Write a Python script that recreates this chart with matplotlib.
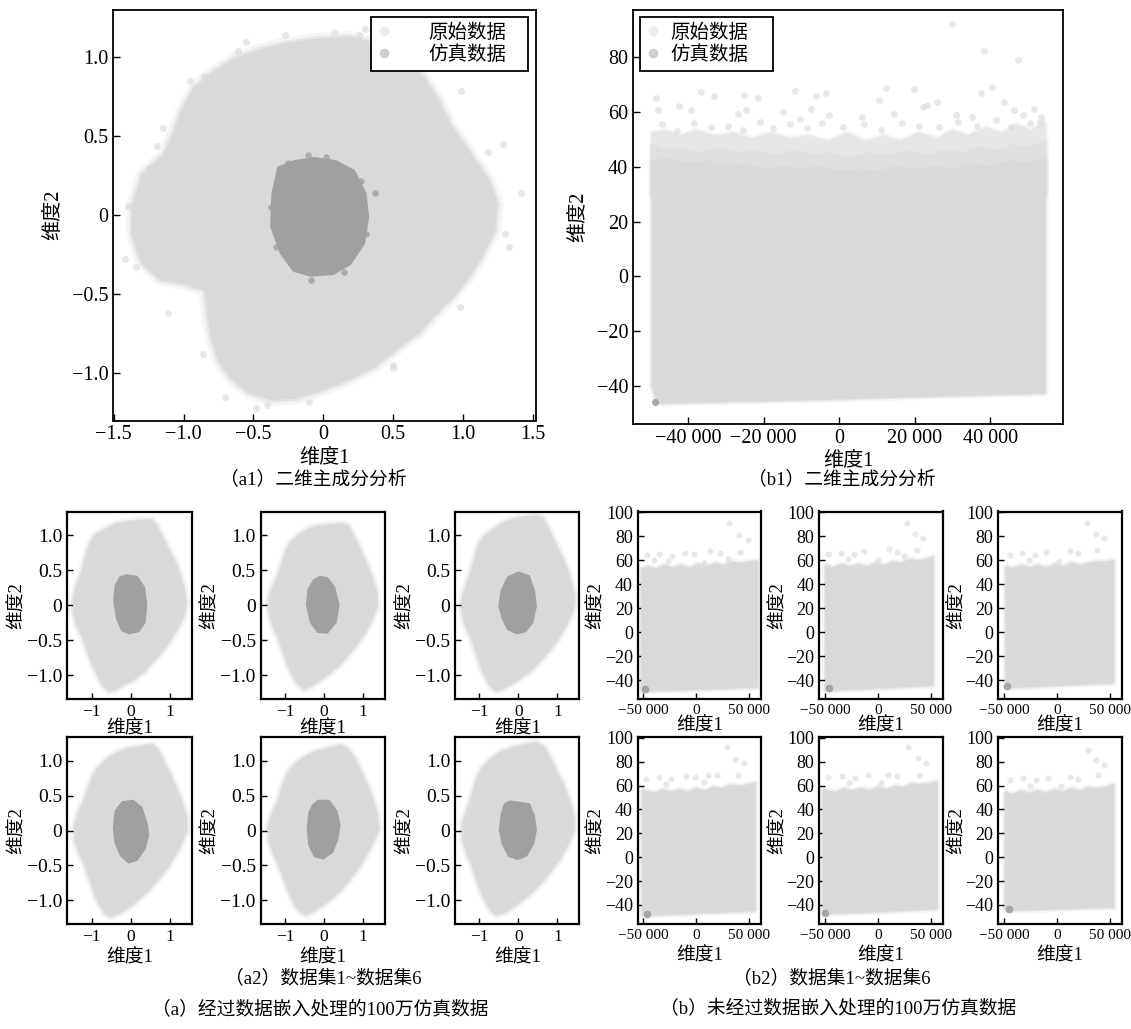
import numpy as np
import matplotlib
matplotlib.use("Agg")
import matplotlib.pyplot as plt
from matplotlib.lines import Line2D
from matplotlib.ticker import FuncFormatter

plt.rcParams['font.family'] = ['Liberation Serif', 'Noto Sans CJK SC']
plt.rcParams['axes.unicode_minus'] = True

LIGHT = '#d9d9d9'
DARK = '#a0a0a0'

# ---------------- (a1) cloud outlines ----------------
a1_orig_outline = [(-0.27, 1.08), (-0.45, 1.04), (-0.62, 0.99), (-0.78, 0.90), (-0.92, 0.80),
                   (-1.01, 0.65), (-1.07, 0.50), (-1.14, 0.37), (-1.29, 0.25), (-1.36, 0.05),
                   (-1.36, -0.12), (-1.29, -0.30), (-1.16, -0.40), (-0.98, -0.43), (-0.84, -0.47),
                   (-0.82, -0.62), (-0.79, -0.78), (-0.74, -0.92), (-0.66, -1.02), (-0.52, -1.12),
                   (-0.37, -1.16), (-0.19, -1.15), (-0.01, -1.10), (0.19, -1.03), (0.37, -0.95),
                   (0.55, -0.82), (0.68, -0.74), (0.82, -0.60), (0.92, -0.52), (1.05, -0.37),
                   (1.14, -0.24), (1.22, -0.10), (1.24, 0.07), (1.18, 0.22), (1.10, 0.32),
                   (1.00, 0.45), (0.91, 0.56), (0.82, 0.72), (0.72, 0.86), (0.60, 0.98),
                   (0.42, 1.07), (0.19, 1.12), (-0.01, 1.11)]
a1_sim_outline = [(-0.21, 0.34), (-0.32, 0.30), (-0.36, 0.14), (-0.37, -0.07), (-0.30, -0.24),
                  (-0.21, -0.35), (-0.09, -0.38), (0.07, -0.37), (0.19, -0.31), (0.29, -0.18),
                  (0.32, -0.01), (0.30, 0.14), (0.22, 0.28), (0.09, 0.34), (-0.06, 0.36)]
a1_orig_dots_x = [-1.19, -1.40, -1.42, -1.34, -1.11, 1.29, 1.42, 0.99, -0.48, -0.70,
                  -0.27, 0.08, -0.61, 0.81, -1.25, 1.33, -0.40, 0.50, 0.26, -0.85,
                  -0.95, -1.15, -0.55, 0.30, 0.75, 1.18, 1.30, 0.98, 0.50, -0.10,
                  -0.86, -1.32]
a1_orig_dots_y = [0.44, 0.06, -0.28, -0.33, -0.62, 0.45, 0.14, 0.79, -1.22, -1.15,
                  1.14, 1.16, 1.04, -0.61, 0.30, -0.20, -1.20, -0.95, 1.14, 0.88,
                  0.85, 0.55, 1.10, 1.18, 0.95, 0.40, -0.12, -0.58, -0.97, -1.18,
                  -0.88, -0.22]
a1_sim_dots_x = [0.37, -0.09, -0.11, 0.27, -0.34, -0.25, 0.15, 0.31, -0.37, 0.02]
a1_sim_dots_y = [0.14, -0.41, 0.38, 0.22, -0.20, 0.33, -0.36, -0.12, 0.05, 0.37]

# ---------------- (b1) ----------------
b1_dense_outline = [(-48000, -46.2), (0, -44.6), (54400, -42.5), (54400, 43), (50000, 41),
                    (45000, 42), (40000, 40), (35000, 41), (30000, 39), (25000, 40), (20000, 39),
                    (15000, 40), (10000, 38), (5000, 39), (0, 38), (-5000, 40), (-10000, 39),
                    (-15000, 40), (-20000, 39), (-25000, 41), (-30000, 40), (-35000, 42),
                    (-40000, 41), (-45000, 43), (-49400, 42), (-49400, -40)]
b1_band1_outline = [(-49400, 30), (54400, 30), (54400, 49), (50000, 47), (46000, 48), (42000, 46),
                    (37000, 47), (33000, 45), (28000, 46), (23000, 44), (18000, 46), (13000, 44),
                    (8000, 45), (3000, 43), (-2000, 45), (-7000, 44), (-12000, 46), (-17000, 44),
                    (-22000, 46), (-27000, 45), (-32000, 47), (-37000, 45), (-42000, 47),
                    (-46000, 46), (-49400, 48)]
b1_band2_outline = [(-49400, 30), (54400, 30), (54400, 56), (51000, 53), (47000, 55), (43000, 52),
                    (39000, 54), (34000, 51), (30000, 53), (26000, 50), (21000, 52), (16000, 49),
                    (12000, 51), (7000, 49), (2000, 52), (-3000, 49), (-8000, 51), (-13000, 50),
                    (-18000, 52), (-23000, 50), (-28000, 52), (-33000, 51), (-38000, 53),
                    (-42000, 51), (-46000, 53), (-49400, 52)]
b1_orig_dots_x = [29900, 38400, 47200, 40500, 37600, 19800, 12300, -11600, -48500, -36600,
                  -33100, -25100, -21400, -3500, -6100, 43600, 25900, 10400, -42500, -39300,
                  -48000, -26800, -24700, -14800, -7600, 22200, 23200, 51500, 46200, -10500,
                  -2800, 5900, 14500, 30900, 35200, 48700, 53000,
                  -47000, -43000, -38500, -34000, -29500, -25500, -21000, -17500, -13000, -8500,
                  -4500, 1000, 6500, 11000, 16500, 21000, 26500, 31500, 36500, 41500,
                  45500, 50500, 53500]
b1_orig_dots_y = [92.1, 82.4, 78.8, 69.1, 66.9, 68.5, 68.8, 67.6, 65.2, 67.3,
                  65.8, 66.1, 65.2, 66.9, 65.8, 63.6, 63.6, 64.2, 62.1, 60.8,
                  60.6, 59.4, 60.6, 59.9, 61.2, 61.8, 62.7, 61.2, 60.6, 57.6,
                  58.8, 58.2, 59.4, 58.8, 58.2, 58.8, 56.4,
                  55.5, 53.0, 56.0, 54.5, 55.0, 53.5, 56.5, 54.0, 55.5, 54.0,
                  56.0, 54.5, 55.5, 53.5, 56.0, 55.0, 54.5, 56.5, 55.0, 57.0,
                  54.5, 56.0, 58.0]
b1_sim_x = [-48750]
b1_sim_y = [-46.0]

# ---------------- (a2) datasets 1-6 ----------------
a2_orig_outlines = [
    [(0.53, 1.21), (0.20, 1.20), (-0.10, 1.18), (-0.37, 1.15), (-0.65, 1.07), (-0.88, 1.00),
     (-1.00, 0.90), (-1.09, 0.77), (-1.17, 0.60), (-1.24, 0.45), (-1.36, 0.28), (-1.44, 0.12),
     (-1.45, -0.08), (-1.36, -0.28), (-1.20, -0.45), (-1.08, -0.65), (-0.95, -0.85), (-0.82, -1.00),
     (-0.70, -1.13), (-0.56, -1.21), (-0.40, -1.19), (-0.20, -1.12), (0.05, -1.05), (0.32, -0.94),
     (0.55, -0.80), (0.75, -0.67), (0.95, -0.53), (1.15, -0.35), (1.35, -0.13), (1.40, 0.05),
     (1.32, 0.28), (1.20, 0.50), (1.08, 0.65), (0.96, 0.78), (0.85, 0.90), (0.74, 1.02),
     (0.63, 1.14)],
    [(0.45, 1.15), (0.15, 1.14), (-0.12, 1.12), (-0.38, 1.08), (-0.62, 1.00), (-0.82, 0.90),
     (-0.96, 0.76), (-1.05, 0.60), (-1.14, 0.44), (-1.27, 0.28), (-1.38, 0.12), (-1.39, -0.08),
     (-1.30, -0.27), (-1.15, -0.45), (-1.03, -0.65), (-0.90, -0.85), (-0.77, -1.00), (-0.64, -1.12),
     (-0.50, -1.18), (-0.34, -1.14), (-0.12, -1.06), (0.10, -0.97), (0.35, -0.85), (0.57, -0.72),
     (0.78, -0.58), (0.98, -0.42), (1.18, -0.22), (1.34, 0.00), (1.32, 0.18), (1.20, 0.40),
     (1.07, 0.58), (0.95, 0.73), (0.84, 0.87), (0.72, 1.00), (0.60, 1.12)],
    [(0.45, 1.27), (0.15, 1.25), (-0.12, 1.22), (-0.40, 1.16), (-0.66, 1.06), (-0.88, 0.96),
     (-1.02, 0.82), (-1.10, 0.65), (-1.18, 0.48), (-1.30, 0.30), (-1.40, 0.13), (-1.42, -0.08),
     (-1.33, -0.28), (-1.18, -0.46), (-1.06, -0.66), (-0.94, -0.86), (-0.82, -1.02), (-0.70, -1.14),
     (-0.56, -1.20), (-0.38, -1.17), (-0.16, -1.10), (0.08, -1.01), (0.35, -0.90), (0.58, -0.76),
     (0.80, -0.62), (1.00, -0.47), (1.20, -0.28), (1.38, -0.06), (1.42, 0.12), (1.32, 0.34),
     (1.20, 0.55), (1.08, 0.70), (0.96, 0.84), (0.84, 0.98), (0.72, 1.12), (0.60, 1.24)],
    [(0.55, 1.22), (0.22, 1.19), (-0.08, 1.16), (-0.36, 1.10), (-0.62, 1.00), (-0.84, 0.88),
     (-0.98, 0.73), (-1.08, 0.57), (-1.18, 0.42), (-1.32, 0.24), (-1.42, 0.05), (-1.40, -0.15),
     (-1.28, -0.33), (-1.14, -0.50), (-1.02, -0.70), (-0.90, -0.90), (-0.78, -1.05), (-0.64, -1.17),
     (-0.50, -1.22), (-0.32, -1.18), (-0.10, -1.10), (0.14, -1.00), (0.40, -0.87), (0.62, -0.73),
     (0.84, -0.58), (1.04, -0.42), (1.24, -0.22), (1.42, 0.00), (1.40, 0.20), (1.28, 0.42),
     (1.15, 0.60), (1.02, 0.76), (0.90, 0.90), (0.78, 1.04), (0.66, 1.17)],
    [(0.43, 1.21), (0.12, 1.17), (-0.14, 1.13), (-0.40, 1.07), (-0.64, 0.98), (-0.84, 0.87),
     (-0.98, 0.73), (-1.07, 0.57), (-1.16, 0.41), (-1.30, 0.24), (-1.40, 0.06), (-1.38, -0.14),
     (-1.27, -0.32), (-1.12, -0.50), (-1.00, -0.70), (-0.87, -0.88), (-0.74, -1.04), (-0.60, -1.15),
     (-0.47, -1.19), (-0.30, -1.15), (-0.08, -1.07), (0.14, -0.98), (0.38, -0.86), (0.60, -0.72),
     (0.80, -0.57), (1.00, -0.40), (1.20, -0.20), (1.38, 0.03), (1.34, 0.22), (1.22, 0.45),
     (1.10, 0.63), (0.97, 0.78), (0.86, 0.92), (0.74, 1.05), (0.58, 1.17)],
    [(0.45, 1.25), (0.15, 1.22), (-0.14, 1.18), (-0.42, 1.12), (-0.68, 1.02), (-0.90, 0.90),
     (-1.04, 0.75), (-1.12, 0.58), (-1.20, 0.42), (-1.32, 0.25), (-1.41, 0.07), (-1.40, -0.13),
     (-1.30, -0.32), (-1.16, -0.50), (-1.04, -0.70), (-0.92, -0.88), (-0.80, -1.02), (-0.68, -1.14),
     (-0.55, -1.19), (-0.36, -1.16), (-0.14, -1.08), (0.10, -0.98), (0.36, -0.86), (0.60, -0.72),
     (0.82, -0.57), (1.02, -0.41), (1.22, -0.22), (1.40, 0.00), (1.40, 0.20), (1.28, 0.43),
     (1.15, 0.62), (1.02, 0.77), (0.90, 0.91), (0.78, 1.05), (0.64, 1.19)],
]
a2_sim_outlines = [
    [(-0.11, 0.43), (0.16, 0.41), (0.34, 0.26), (0.40, 0.01), (0.36, -0.24), (0.20, -0.37),
     (-0.03, -0.40), (-0.22, -0.36), (-0.35, -0.19), (-0.42, 0.06), (-0.39, 0.28), (-0.27, 0.40)],
    [(-0.10, 0.41), (0.08, 0.39), (0.26, 0.26), (0.37, 0.01), (0.30, -0.24), (0.08, -0.39),
     (-0.16, -0.38), (-0.34, -0.24), (-0.44, 0.01), (-0.40, 0.23), (-0.26, 0.36)],
    [(0.00, 0.47), (0.27, 0.42), (0.40, 0.21), (0.45, -0.01), (0.36, -0.24), (0.18, -0.37),
     (-0.04, -0.40), (-0.27, -0.34), (-0.40, -0.19), (-0.49, -0.01), (-0.43, 0.21), (-0.27, 0.40)],
    [(-0.21, 0.41), (0.06, 0.43), (0.28, 0.33), (0.42, 0.08), (0.45, -0.06), (0.36, -0.26),
     (0.16, -0.42), (-0.05, -0.46), (-0.25, -0.36), (-0.39, -0.17), (-0.43, 0.03), (-0.39, 0.28)],
    [(-0.15, 0.43), (0.12, 0.43), (0.32, 0.28), (0.40, 0.08), (0.34, -0.12), (0.21, -0.31),
     (-0.02, -0.40), (-0.24, -0.37), (-0.38, -0.21), (-0.42, 0.03), (-0.38, 0.26), (-0.28, 0.37)],
    [(-0.22, 0.42), (0.04, 0.40), (0.28, 0.38), (0.40, 0.21), (0.45, 0.01), (0.38, -0.19),
     (0.20, -0.36), (-0.02, -0.41), (-0.25, -0.36), (-0.40, -0.19), (-0.48, 0.01), (-0.43, 0.23),
     (-0.35, 0.38)],
]

# ---------------- (b2) datasets 1-6 ----------------
b2_outlines = [
    [(-51400, -48.9), (57400, -45.5), (57400, 59), (50000, 58), (42000, 57), (34000, 58),
     (26000, 55), (18000, 57), (10000, 54), (2000, 56), (-6000, 53), (-14000, 55), (-22000, 53),
     (-30000, 55), (-38000, 52), (-46000, 54), (-51400, 52)],
    [(-49100, -48.3), (51900, -44.1), (51900, 62), (45000, 60), (38000, 59), (30000, 60),
     (22000, 57), (14000, 58), (6000, 55), (-2000, 57), (-10000, 54), (-18000, 56), (-26000, 54),
     (-34000, 56), (-42000, 53), (-49100, 55)],
    [(-47700, -46.0), (53300, -42.0), (53300, 59), (46000, 58), (38000, 58), (30000, 57),
     (22000, 55), (14000, 57), (6000, 54), (-2000, 56), (-10000, 53), (-18000, 55), (-26000, 53),
     (-34000, 55), (-42000, 52), (-47700, 54)],
    [(-50600, -48.6), (55400, -44.4), (55400, 61.7), (48000, 60), (40000, 59), (32000, 60),
     (24000, 57), (16000, 58), (8000, 55), (0, 57), (-8000, 54), (-16000, 56), (-24000, 54),
     (-32000, 56), (-40000, 53), (-50600, 56)],
    [(-51600, -47.2), (55600, -43.0), (55600, 62.6), (48000, 61), (40000, 60), (32000, 61),
     (24000, 58), (16000, 59), (8000, 56), (0, 58), (-8000, 55), (-16000, 57), (-24000, 55),
     (-32000, 57), (-40000, 54), (-51600, 56)],
    [(-48400, -44.4), (53300, -41.6), (53300, 60), (46000, 58), (38000, 57), (30000, 58),
     (22000, 55), (14000, 57), (6000, 54), (-2000, 56), (-10000, 53), (-18000, 55), (-26000, 53),
     (-34000, 55), (-42000, 52), (-48400, 54)],
]
b2_dots = [
    [(31200, 90.5), (40100, 81), (48900, 76.8), (41600, 66.8), (-46700, 64.2), (-35600, 65.4),
     (-23000, 63.4), (-11000, 65.6), (-2500, 65.4), (13200, 67.6), (22700, 66.2), (-26800, 59.2),
     (6900, 57.8), (-40000, 60), (30000, 61)],
    [(27500, 91.3), (35300, 81.6), (42500, 78.2), (36900, 68.2), (-46900, 64.8), (-35000, 66.2),
     (-22500, 64.8), (-13100, 67.6), (10300, 69), (18100, 67), (-28000, 61), (0, 60), (25000, 63)],
    [(28300, 90.9), (36700, 81.4), (45000, 78), (38300, 68), (-44000, 64.5), (-33000, 66),
     (-21000, 64), (-10000, 66.5), (12000, 67.5), (20000, 66), (-26000, 60), (2000, 59)],
    [(29100, 92.5), (37000, 82.7), (45600, 79), (39600, 69.3), (-47800, 65.9), (-35400, 67.3),
     (-23700, 65.9), (-10100, 68.2), (-1600, 67.3), (11100, 68.7), (19600, 69.3), (-28500, 61.7),
     (7000, 63.1)],
    [(28700, 92.5), (37500, 83.2), (45300, 79.3), (39000, 69.3), (-46800, 67.3), (-34000, 68),
     (-22000, 66.5), (-9000, 68.5), (10000, 69), (18000, 68), (-27000, 62), (3000, 62)],
    [(29100, 89.7), (37000, 81.3), (44900, 77.6), (38600, 68.7), (-44000, 65), (-32000, 66),
     (-20000, 64.5), (-8000, 66), (12000, 67), (20000, 65.5), (-25000, 60), (4000, 60)],
]
b2_sim_x = [-48300, -45900, -46800, -46800, -49700, -45300]
b2_sim_y = [-47.8, -46.4, -45.0, -47.2, -46.4, -43.6]

a_yticks = [-1.0, -0.5, 0, 0.5, 1.0]
a1_xticks = [-1.5, -1.0, -0.5, 0, 0.5, 1.0, 1.5]
a2_xticks = [-1, 0, 1]
b1_xticks = [-40000, -20000, 0, 20000, 40000]
b1_yticks = [-40, -20, 0, 20, 40, 60, 80]
b2_xticks = [-50000, 0, 50000]
b2_yticks = [-40, -20, 0, 20, 40, 60, 80, 100]


def fmt_dec(v, pos):
    if abs(v) < 1e-9:
        return '0'
    return f'{v:.1f}'.replace('-', '\u2212')


def fmt_int(v, pos):
    s = f'{abs(int(round(v))):,}'.replace(',', ' ')
    return '\u2212' + s if v < 0 else s


def cloud(ax, pts, color, halo=5):
    xs = [p[0] for p in pts]
    ys = [p[1] for p in pts]
    ax.fill(xs, ys, fc='none', ec=color, lw=halo * 1.8, alpha=0.25, joinstyle='round', zorder=1)
    ax.fill(xs, ys, fc='none', ec=color, lw=halo, alpha=0.5, joinstyle='round', zorder=1)
    ax.fill(xs, ys, fc=color, ec=color, lw=halo * 0.4, joinstyle='round', zorder=2)


def style(ax, lw, xsize, ysize, tl):
    for s in ax.spines.values():
        s.set_linewidth(lw)
    ax.tick_params(direction='in', length=tl, width=1, top=False, right=False)
    ax.tick_params(axis='x', labelsize=xsize)
    ax.tick_params(axis='y', labelsize=ysize)


fig = plt.figure(figsize=(11.31, 10.29), dpi=100)
W, H = 1131.0, 1029.0


def add_ax(l, t, r, b):
    return fig.add_axes([l / W, 1 - b / H, (r - l) / W, (b - t) / H])


h1 = Line2D([], [], ls='none', marker='o', ms=7, mfc='#ececec', mec='none')
h2 = Line2D([], [], ls='none', marker='o', ms=7, mfc='#cfcfcf', mec='none')
leg_kw = dict(loc='upper left', mode='expand', fontsize=14, frameon=True, fancybox=False,
              edgecolor='black', framealpha=1, handlelength=0.6, borderpad=0.35,
              labelspacing=0.15, borderaxespad=0)

# ---- (a1)
ax = add_ax(113, 10, 536, 420.5)
cloud(ax, a1_orig_outline, LIGHT, 6)
ax.scatter(a1_orig_dots_x, a1_orig_dots_y, s=26, c=LIGHT, alpha=0.6, lw=0, zorder=1)
cloud(ax, a1_sim_outline, DARK, 5)
ax.scatter(a1_sim_dots_x, a1_sim_dots_y, s=22, c=DARK, alpha=0.8, lw=0, zorder=3)
ax.set_xlim(-1.505, 1.525)
ax.set_ylim(-1.3, 1.3)
ax.set_xticks(a1_xticks)
ax.set_yticks(a_yticks)
ax.xaxis.set_major_formatter(FuncFormatter(fmt_dec))
ax.yaxis.set_major_formatter(FuncFormatter(fmt_dec))
style(ax, 1.3, 14.5, 14.5, 5)
ax.set_xlabel('维度1', fontsize=14.5, labelpad=3)
ax.set_ylabel('维度2', fontsize=14.5, labelpad=6)
lg = ax.legend([h1, h2], ['原始数据', '仿真数据'], bbox_to_anchor=(0.610, 0.0, 0.371, 0.983),
               handletextpad=2.0, **leg_kw)
lg.get_frame().set_linewidth(1.3)

# ---- (b1)
ax = add_ax(633, 10, 1063, 424)
cloud(ax, b1_band2_outline, '#e6e6e6', 3)
cloud(ax, b1_band1_outline, '#dfdfdf', 3)
cloud(ax, b1_dense_outline, LIGHT, 3)
ax.scatter(b1_orig_dots_x, b1_orig_dots_y, s=24, c=LIGHT, alpha=0.6, lw=0, zorder=3)
ax.scatter(b1_sim_x, b1_sim_y, s=26, c=DARK, alpha=0.9, lw=0, zorder=4)
ax.set_xlim(-54600, 59200)
ax.set_ylim(-53.9, 97.2)
ax.set_xticks(b1_xticks)
ax.set_yticks(b1_yticks)
ax.xaxis.set_major_formatter(FuncFormatter(fmt_int))
ax.yaxis.set_major_formatter(FuncFormatter(fmt_int))
style(ax, 1.3, 14.5, 14.5, 5)
ax.set_xlabel('维度1', fontsize=14.5, labelpad=3)
ax.set_ylabel('维度2', fontsize=14.5, labelpad=6)
lg = ax.legend([h1, h2], ['原始数据', '仿真数据'], bbox_to_anchor=(0.0163, 0.0, 0.309, 0.983),
               handletextpad=0.6, **leg_kw)
lg.get_frame().set_linewidth(1.3)

# ---- (a2) and (b2) small panels
a2_lefts = [67.3, 260.7, 455.0]
b2_lefts = [637.7, 819.3, 998.3]
rows = [(511.5, 699.3), (737.3, 924.0)]
for k in range(6):
    r, c = divmod(k, 3)
    t, b = rows[r]
    ax = add_ax(a2_lefts[c], t, a2_lefts[c] + 124.4, b)
    cloud(ax, a2_orig_outlines[k], LIGHT, 4)
    cloud(ax, a2_sim_outlines[k], DARK, 3.5)
    ax.set_xlim(-1.62, 1.56)
    ax.set_ylim(-1.34, 1.34)
    ax.set_xticks(a2_xticks)
    ax.set_yticks(a_yticks)
    ax.xaxis.set_major_formatter(FuncFormatter(fmt_int))
    ax.yaxis.set_major_formatter(FuncFormatter(fmt_dec))
    style(ax, 1.6, 12.5, 14, 4)
    ax.set_xlabel('维度1', fontsize=13.5, labelpad=0 if r == 0 else 3)
    ax.set_ylabel('维度2', fontsize=13.5, labelpad=1)

    ax = add_ax(b2_lefts[c], t, b2_lefts[c] + 123.5, b)
    cloud(ax, b2_outlines[k], LIGHT, 3)
    ax.scatter([p[0] for p in b2_dots[k]], [p[1] for p in b2_dots[k]], s=20, c=LIGHT,
               alpha=0.6, lw=0, zorder=3)
    ax.scatter([b2_sim_x[k]], [b2_sim_y[k]], s=30, c=DARK, alpha=0.9, lw=0, zorder=4)
    ax.set_xlim(-55400, 61400)
    ax.set_ylim(-56, 100.5)
    ax.set_xticks(b2_xticks)
    ax.set_yticks(b2_yticks)
    ax.xaxis.set_major_formatter(FuncFormatter(fmt_int))
    ax.yaxis.set_major_formatter(FuncFormatter(fmt_int))
    style(ax, 1.6, 11, 13, 4)
    ax.set_xlabel('维度1', fontsize=13.5, labelpad=0 if r == 0 else 4)
    ax.set_ylabel('维度2', fontsize=13.5, labelpad=0)

# ---- captions
cap = dict(ha='center', va='center', fontsize=13.5)
fig.text(313 / W, 1 - 480 / H, '（a1）二维主成分分析', **cap)
fig.text(842 / W, 1 - 480 / H, '（b1）二维主成分分析', **cap)
fig.text(323 / W, 1 - 978 / H, '（a2）数据集1~数据集6', **cap)
fig.text(832 / W, 1 - 978 / H, '（b2）数据集1~数据集6', **cap)
fig.text(320 / W, 1 - 1009 / H, '（a）经过数据嵌入处理的100万仿真数据', **cap)
fig.text(838 / W, 1 - 1009 / H, '（b）未经过数据嵌入处理的100万仿真数据', **cap)

fig.savefig('out.png', dpi=100)
